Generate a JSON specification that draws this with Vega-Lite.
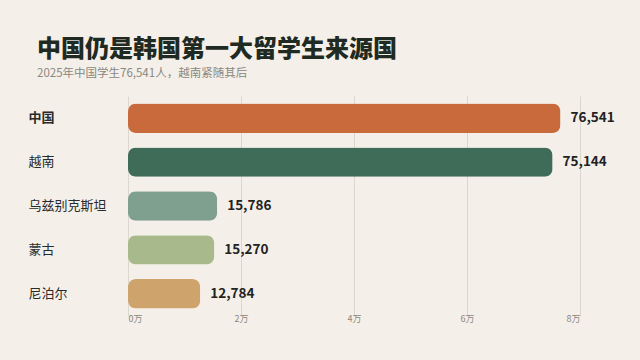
{
  "$schema": "https://vega.github.io/schema/vega-lite/v6.json",
  "width": 452,
  "height": 220,
  "autosize": {"type": "none"},
  "padding": {"left": 128, "top": 96, "right": 60, "bottom": 44},
  "background": "#f4f0e9",
  "title": {
    "text": "中国仍是韩国第一大留学生来源国",
    "subtitle": "2025年中国学生76,541人，越南紧随其后",
    "anchor": "start",
    "frame": "group",
    "dx": -91,
    "offset": 17,
    "font": "Noto Sans CJK SC",
    "fontSize": 24,
    "fontWeight": 900,
    "color": "#1f2a22",
    "subtitleFont": "Noto Sans CJK SC",
    "subtitleFontSize": 11.5,
    "subtitleColor": "#8a8781",
    "subtitlePadding": 6
  },
  "data": {
    "values": [
      {"country": "中国", "students": 76541},
      {"country": "越南", "students": 75144},
      {"country": "乌兹别克斯坦", "students": 15786},
      {"country": "蒙古", "students": 15270},
      {"country": "尼泊尔", "students": 12784}
    ]
  },
  "encoding": {
    "y": {
      "field": "country",
      "type": "nominal",
      "sort": null,
      "scale": {"paddingInner": 0.33, "paddingOuter": 0.17},
      "axis": {
        "title": null,
        "domain": false,
        "ticks": false,
        "labelAlign": "left",
        "labelPadding": 100,
        "labelFont": "Noto Sans CJK SC",
        "labelFontSize": 13,
        "labelColor": "#2a2a2a",
        "labelFontWeight": {"condition": {"test": "datum.value == '中国'", "value": "bold"}, "value": "normal"}
      }
    },
    "x": {
      "field": "students",
      "type": "quantitative",
      "scale": {"domain": [0, 80000], "nice": false},
      "axis": {
        "title": null,
        "values": [0, 20000, 40000, 60000, 80000],
        "labelExpr": "datum.value / 10000 + '万'",
        "domain": false,
        "ticks": false,
        "grid": true,
        "gridColor": "#dcd7ce",
        "gridWidth": 1,
        "labelFont": "Noto Sans CJK SC",
        "labelFontSize": 9,
        "labelColor": "#8a8781",
        "labelPadding": -2
      }
    }
  },
  "layer": [
    {
      "mark": {"type": "bar", "cornerRadius": 8},
      "encoding": {
        "color": {
          "field": "country",
          "type": "nominal",
          "legend": null,
          "scale": {
            "domain": ["中国", "越南", "乌兹别克斯坦", "蒙古", "尼泊尔"],
            "range": ["#c96a3c", "#3f6b59", "#7fa08e", "#a8ba8b", "#cfa36c"]
          }
        }
      }
    },
    {
      "mark": {"type": "text", "align": "left", "dx": 10, "font": "Noto Sans CJK SC", "fontSize": 13.5, "fontWeight": "bold", "color": "#222222"},
      "encoding": {
        "text": {"field": "students", "type": "quantitative", "format": ","}
      }
    }
  ],
  "config": {"view": {"stroke": null}}
}
